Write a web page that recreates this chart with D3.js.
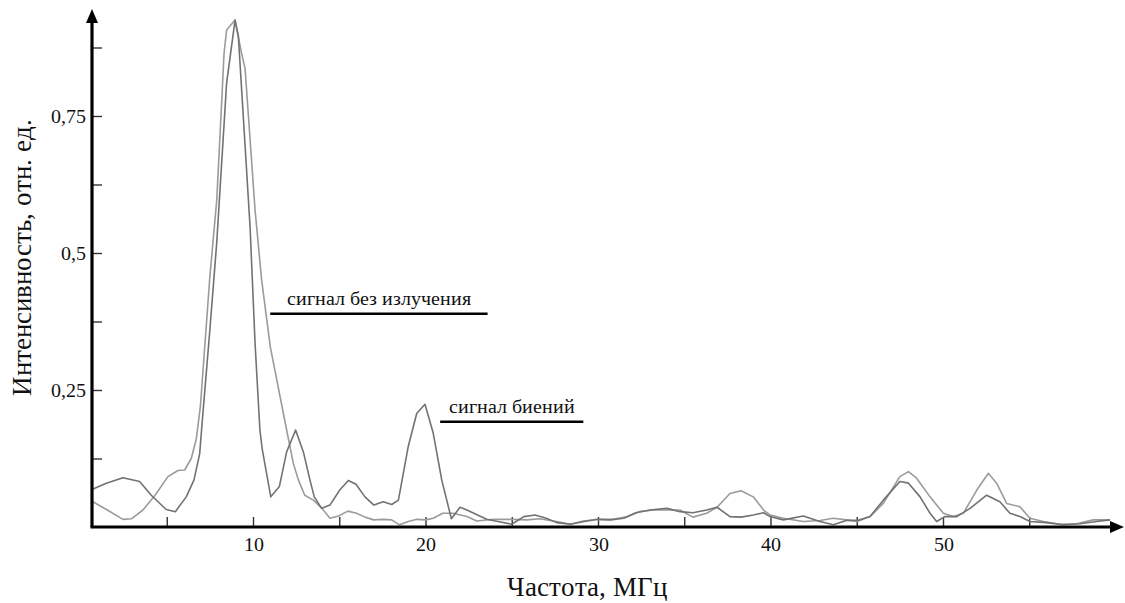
<!DOCTYPE html>
<html>
<head>
<meta charset="utf-8">
<script src="https://cdn.jsdelivr.net/npm/d3@7"></script>
<style>
  @font-face {
    font-family: "ChartSerif";
    src: local("Liberation Serif"), local("LiberationSerif"), local("LiberationSerif-Regular"),
         local("Times New Roman"), local("Tinos"), local("Nimbus Roman"), local("FreeSerif"),
         local("DejaVu Serif"), local("DejaVuSerif"), local("Noto Serif"), local("NotoSerif-Regular");
  }
  body { margin: 0; background: #fff; }
  svg text { font-family: "ChartSerif", "Liberation Serif", "DejaVu Serif", "Noto Serif", serif; fill: #111; }
</style>
</head>
<body>
<div id="chart-area"></div>
<script>
// spectra: [frequency MHz, intensity]
var beatSignal = [
	[0.63,0.068],[1.5,0.080],[2.46,0.090],[3.43,0.083],[4.1,0.058],[4.97,0.032],[5.5,0.028],
	[6.13,0.055],[6.58,0.086],[6.91,0.134],[7.05,0.19],[7.5,0.36],[7.9,0.52],[8.47,0.81],
	[8.96,0.925],[9.15,0.896],[9.83,0.548],[10.12,0.335],[10.4,0.177],[10.54,0.141],[11.03,0.055],
	[11.53,0.074],[11.95,0.137],[12.47,0.177],[12.92,0.137],[13.3,0.086],[13.55,0.055],[13.98,0.034],
	[14.46,0.040],[15.04,0.068],[15.53,0.085],[15.97,0.078],[16.49,0.055],[17.01,0.040],[17.55,0.046],
	[18.04,0.041],[18.43,0.049],[19.0,0.147],[19.49,0.207],[19.97,0.224],[20.45,0.171],[20.94,0.086],
	[21.5,0.015],[22.0,0.036],[22.4,0.031],[22.8,0.025],[23.55,0.014],[24.2,0.010],[25.0,0.005],
	[25.7,0.019],[26.35,0.022],[27.0,0.016],[27.6,0.008],[28.4,0.005],[29.2,0.010],[30.0,0.014],
	[30.7,0.013],[31.5,0.016],[32.2,0.026],[33.0,0.031],[34.0,0.034],[34.75,0.028],[35.5,0.026],
	[36.3,0.031],[36.9,0.036],[37.65,0.019],[38.3,0.018],[39.0,0.022],[39.6,0.026],[39.97,0.019],
	[40.74,0.013],[41.9,0.020],[42.87,0.010],[43.64,0.004],[44.4,0.012],[45.03,0.012],[45.77,0.019],
	[46.54,0.049],[47.5,0.083],[48.0,0.080],[48.67,0.055],[49.25,0.025],[49.63,0.010],[50.1,0.019],
	[50.8,0.019],[51.57,0.034],[52.53,0.058],[53.3,0.046],[53.88,0.025],[54.46,0.019],[55.04,0.010],
	[56.0,0.008],[56.97,0.004],[57.94,0.006],[58.9,0.010],[59.68,0.013]
];

var noRadSignal = [
	[0.72,0.046],[1.6,0.030],[2.46,0.014],[2.95,0.015],[3.62,0.031],[4.3,0.057],[5.07,0.092],
	[5.65,0.103],[6.04,0.104],[6.42,0.125],[6.71,0.160],[6.95,0.22],[7.5,0.457],[7.9,0.597],
	[8.19,0.779],[8.32,0.864],[8.47,0.907],[8.96,0.925],[9.34,0.864],[9.54,0.837],[10.12,0.578],
	[10.5,0.451],[11.0,0.329],[11.95,0.177],[12.34,0.116],[12.63,0.086],[13.0,0.058],[13.5,0.049],
	[14.0,0.034],[14.46,0.016],[14.95,0.020],[15.5,0.029],[16.0,0.025],[16.5,0.018],[17.0,0.013],
	[17.55,0.014],[18.04,0.013],[18.5,0.004],[19.0,0.010],[19.5,0.014],[20.0,0.013],[20.45,0.016],
	[21.0,0.025],[21.6,0.025],[22.4,0.019],[22.97,0.011],[23.93,0.014],[25.0,0.014],[25.9,0.013],
	[26.6,0.015],[27.6,0.010],[28.4,0.005],[29.15,0.011],[30.0,0.014],[30.9,0.014],[31.7,0.019],
	[32.4,0.028],[33.2,0.031],[34.0,0.031],[34.75,0.031],[35.5,0.018],[36.3,0.025],[36.9,0.036],
	[37.65,0.061],[38.3,0.066],[39.0,0.055],[39.6,0.031],[39.97,0.022],[40.74,0.016],[41.9,0.010],
	[42.87,0.012],[43.64,0.016],[44.4,0.013],[45.03,0.010],[45.77,0.019],[46.54,0.043],[47.5,0.092],
	[48.0,0.101],[48.47,0.089],[49.25,0.055],[50.02,0.025],[50.6,0.019],[51.18,0.025],[51.95,0.067],
	[52.63,0.098],[53.11,0.080],[53.69,0.043],[54.46,0.037],[55.04,0.016],[55.82,0.010],[56.78,0.005],
	[57.75,0.006],[58.71,0.013],[59.68,0.013]
];

var xTicks = [5, 10, 15, 20, 25, 30, 35, 40, 45, 50, 55];
var xLabelTicks = [10, 20, 30, 40, 50];
var yTicks = [0.125, 0.25, 0.375, 0.5, 0.625, 0.75, 0.875];
var yLabels = {0.25: "0,25", 0.5: "0,5", 0.75: "0,75"};

var annotations = [
	{text: "сигнал без излучения", f: 11.0, v: 0.389, len: 12.6},
	{text: "сигнал биений", f: 20.85, v: 0.192, len: 8.3}
];

var svg = d3.select("#chart-area")
	.append("svg")
		.attr("width", 1125)
		.attr("height", 603);

//scales
var x = d3.scaleLinear()
	.domain([0, 60])
	.range([80.5, 1115.5]);

var y = d3.scaleLinear()
	.domain([0, 1])
	.range([527, -21]);

var x0 = 92, y0 = y(0);

//x axis ticks (inside the plot)
var xAxisCall = d3.axisBottom(x)
	.tickValues(xTicks)
	.tickSizeInner(-10)
	.tickSizeOuter(0)
	.tickPadding(10)
	.tickFormat(function(d){ return xLabelTicks.indexOf(d) >= 0 ? d : ""; });

var xAxis = svg.append("g")
	.attr("transform", "translate(0, " + y0 + ")")
	.call(xAxisCall);

//y axis ticks
var yAxisCall = d3.axisLeft(y)
	.tickValues(yTicks)
	.tickSizeInner(-10)
	.tickSizeOuter(0)
	.tickPadding(6)
	.tickFormat(function(d){ return yLabels[d] || ""; });

var yAxis = svg.append("g")
	.attr("transform", "translate(" + x0 + ", 0)")
	.call(yAxisCall);

[xAxis, yAxis].forEach(function(g){
	g.attr("font-family", null);
	g.select(".domain").remove();
	g.selectAll(".tick line").attr("stroke", "#333").attr("stroke-width", 1.4);
	g.selectAll(".tick text")
		.attr("font-size", 20)
		.attr("fill", "#111");
});

//lines
var line = d3.line()
	.x(function(d){ return x(d[0]); })
	.y(function(d){ return y(d[1]); });

svg.append("path")
	.datum(noRadSignal)
	.attr("fill", "none")
	.attr("stroke", "#9b9b9b")
	.attr("stroke-width", 1.6)
	.attr("stroke-linejoin", "round")
	.attr("d", line);

svg.append("path")
	.datum(beatSignal)
	.attr("fill", "none")
	.attr("stroke", "#727272")
	.attr("stroke-width", 1.6)
	.attr("stroke-linejoin", "round")
	.attr("d", line);

//axis lines with arrows
var xEnd = 1124, yEnd = 9;
svg.append("line")
	.attr("x1", x0 - 1.5).attr("y1", y0)
	.attr("x2", xEnd - 12).attr("y2", y0)
	.attr("stroke", "#000").attr("stroke-width", 3.2);
svg.append("line")
	.attr("x1", x0).attr("y1", y0)
	.attr("x2", x0).attr("y2", yEnd + 12)
	.attr("stroke", "#000").attr("stroke-width", 3.2);
svg.append("path")
	.attr("d", "M" + xEnd + "," + y0 + "L" + (xEnd - 14) + "," + (y0 - 6) + "L" + (xEnd - 14) + "," + (y0 + 6) + "Z")
	.attr("fill", "#000");
svg.append("path")
	.attr("d", "M" + x0 + "," + yEnd + "L" + (x0 - 6) + "," + (yEnd + 14) + "L" + (x0 + 6) + "," + (yEnd + 14) + "Z")
	.attr("fill", "#000");

//annotations
annotations.forEach(function(a){
	var ax = x(a.f), ay = y(a.v);
	svg.append("line")
		.attr("x1", ax).attr("y1", ay)
		.attr("x2", x(a.f + a.len)).attr("y2", ay)
		.attr("stroke", "#000").attr("stroke-width", 2.5);
	svg.append("text")
		.attr("x", (ax + x(a.f + a.len)) / 2)
		.attr("y", ay - 9)
		.attr("text-anchor", "middle")
		.attr("font-size", 20)
		.text(a.text);
});

//axis titles
svg.append("text")
	.attr("x", 587)
	.attr("y", 596)
	.attr("text-anchor", "middle")
	.attr("font-size", 27)
	.text("Частота, МГц");

svg.append("text")
	.attr("transform", "translate(31, 257) rotate(-90)")
	.attr("text-anchor", "middle")
	.attr("font-size", 27)
	.text("Интенсивность, отн. ед.");
</script>
</body>
</html>
